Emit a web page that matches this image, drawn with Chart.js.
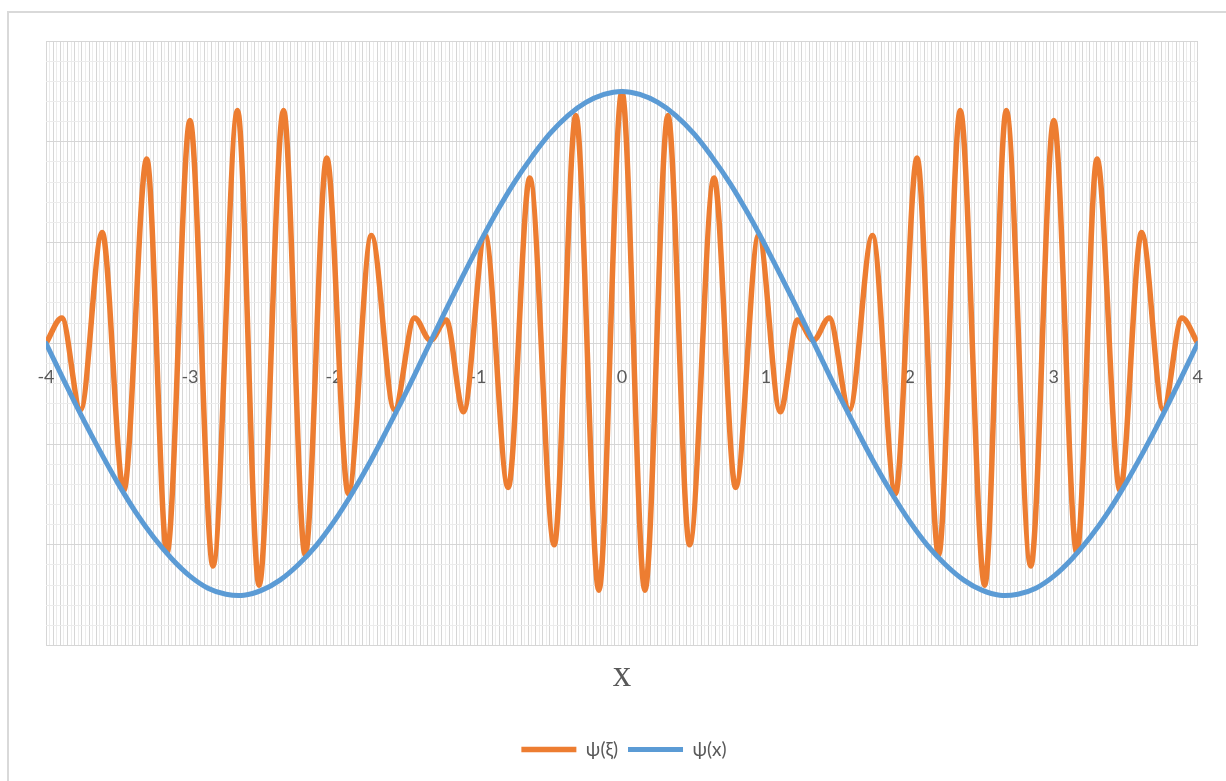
<!DOCTYPE html>
<html lang="en">
<head>
    <meta charset="UTF-8">
    <title>ψ(ξ) and ψ(x)</title>
    <script src="https://cdn.jsdelivr.net/npm/chart.js"></script>
    <style>
        html, body {
            margin: 0;
            overflow: hidden;
            background-color: #ffffff;
        }

        #wrap {
            position: absolute;
            left: 0;
            top: 0;
            width: 1226px;
            height: 781px;
            overflow: hidden;
        }

        /* chart frame, cut off at the right and bottom like the original */
        #frame {
            position: absolute;
            left: 7px;
            top: 11px;
            width: 1400px;
            height: 900px;
            border: 2px solid #d9d9d9;
        }

        canvas {
            position: absolute;
            left: 0;
            top: 0;
        }
    </style>
</head>
<body>
    <div id="wrap">
        <div id="frame"></div>
        <canvas id="waveChart" width="1226" height="781"></canvas>
    </div>

    <script>
        // x tick labels drawn on the zero line
        const xTickValues = [-4, -3, -2, -1, 0, 1, 2, 3, 4];

        // ψ(x): the slow wave, read every 0.125
        const xsSlow = [-4, -3.875, -3.75, -3.625, -3.5, -3.375, -3.25, -3.125, -3, -2.875, -2.75, -2.625, -2.5, -2.375,
            -2.25, -2.125, -2, -1.875, -1.75, -1.625, -1.5, -1.375, -1.25, -1.125, -1, -0.875, -0.75, -0.625, -0.5,
            -0.375, -0.25, -0.125, 0, 0.125, 0.25, 0.375, 0.5, 0.625, 0.75, 0.875, 1, 1.125, 1.25, 1.375, 1.5,
            1.625, 1.75, 1.875, 2, 2.125, 2.25, 2.375, 2.5, 2.625, 2.75, 2.875, 3, 3.125, 3.25, 3.375, 3.5, 3.625,
            3.75, 3.875, 4];
        const psiX = [0, -0.37, -0.73, -1.07, -1.39, -1.68, -1.93, -2.14, -2.31, -2.43, -2.49, -2.50, -2.45, -2.35,
            -2.20, -2.01, -1.77, -1.49, -1.18, -0.84, -0.49, -0.12, 0.25, 0.61, 0.96, 1.29, 1.59, 1.85, 2.08,
            2.26, 2.39, 2.47, 2.50, 2.47, 2.39, 2.26, 2.08, 1.85, 1.59, 1.29, 0.96, 0.61, 0.25, -0.12, -0.49,
            -0.84, -1.18, -1.49, -1.77, -2.01, -2.20, -2.35, -2.45, -2.50, -2.49, -2.43, -2.31, -2.14, -1.93, -1.68,
            -1.39, -1.07, -0.73, -0.37, 0];

        // ψ(ξ): the fast wave, read at its peaks and troughs
        const xsFast = [-4, -3.89, -3.76, -3.61, -3.46, -3.30, -3.16, -3.00, -2.84, -2.67, -2.52, -2.35, -2.20, -2.05,
            -1.90, -1.74, -1.58, -1.44, -1.33, -1.22, -1.10, -0.95, -0.79, -0.64, -0.47, -0.32, -0.16,
            0,
            0.16, 0.32, 0.47, 0.64, 0.79, 0.95, 1.10, 1.22, 1.33, 1.44, 1.58, 1.74, 1.90,
            2.05, 2.20, 2.35, 2.52, 2.67, 2.84, 3.00, 3.16, 3.30, 3.46, 3.61, 3.76, 3.89, 4];
        const psiXi = [0, 0.25, -0.66, 1.10, -1.46, 1.83, -2.08, 2.21, -2.21, 2.31, -2.40, 2.31, -2.10, 1.84,
            -1.49, 1.07, -0.66, 0.25, 0.03, 0.23, -0.68, 1.07, -1.43, 1.64, -2.00, 2.26, -2.45,
            2.50,
            -2.45, 2.26, -2.00, 1.64, -1.43, 1.07, -0.68, 0.23, 0.03, 0.25, -0.66, 1.07, -1.49,
            1.84, -2.10, 2.31, -2.40, 2.31, -2.21, 2.21, -2.08, 1.83, -1.46, 1.10, -0.66, 0.25, 0];

        Chart.defaults.font.family = 'Lato, "Open Sans", sans-serif';
        Chart.defaults.color = '#595959';

        const isStep = (v, n) => Math.abs(v * n - Math.round(v * n)) < 1e-6;

        const ctx = document.getElementById('waveChart').getContext('2d');
        new Chart(ctx, {
            type: 'line',
            data: {
                datasets: [{
                    label: 'ψ(ξ)',
                    data: xsFast.map((x, i) => ({ x: x, y: psiXi[i] })),
                    borderColor: '#ED7D31',
                    backgroundColor: '#ED7D31',
                    borderWidth: 5.5,
                    borderCapStyle: 'round',
                    borderJoinStyle: 'round',
                    pointRadius: 0,
                    cubicInterpolationMode: 'monotone',
                    order: 1
                }, {
                    label: 'ψ(x)',
                    data: xsSlow.map((x, i) => ({ x: x, y: psiX[i] })),
                    borderColor: '#5B9BD5',
                    backgroundColor: '#5B9BD5',
                    borderWidth: 5,
                    borderCapStyle: 'round',
                    borderJoinStyle: 'round',
                    pointRadius: 0,
                    tension: 0.4,
                    order: 0
                }]
            },
            options: {
                responsive: false,
                animation: false,
                layout: {
                    padding: { left: 46, right: 24, top: 41, bottom: 12 }
                },
                plugins: {
                    tooltip: { enabled: false },
                    legend: {
                        position: 'bottom',
                        labels: {
                            usePointStyle: true,
                            pointStyle: 'line',
                            pointStyleWidth: 55,
                            padding: 10,
                            color: '#595959',
                            font: { size: 19 },
                            sort: (a, b) => a.datasetIndex - b.datasetIndex
                        }
                    }
                },
                scales: {
                    x: {
                        type: 'linear',
                        min: -4,
                        max: 4,
                        border: { display: false },
                        grid: {
                            drawTicks: false,
                            color: (c) => (c.tick && isStep(c.tick.value, 20)) ? '#d6d6d6' : '#ececec'
                        },
                        ticks: { stepSize: 0.025, autoSkip: false, display: false },
                        title: {
                            display: true,
                            text: 'x',
                            color: '#595959',
                            font: { family: '"Liberation Serif", serif', size: 37 },
                            padding: { top: 8, bottom: 32 }
                        }
                    },
                    // second x axis, only for the labels sitting on y = 0
                    x2: {
                        type: 'linear',
                        axis: 'x',
                        position: { y: 0 },
                        min: -4,
                        max: 4,
                        border: { display: false },
                        grid: { display: false, drawTicks: false },
                        afterBuildTicks: (axis) => {
                            axis.ticks = xTickValues.map(v => ({ value: v }));
                        },
                        ticks: {
                            autoSkip: false,
                            maxRotation: 0,
                            padding: 23,
                            color: '#595959',
                            font: { size: 18 }
                        }
                    },
                    y: {
                        type: 'linear',
                        min: -3,
                        max: 3,
                        border: { display: false },
                        grid: {
                            drawTicks: false,
                            color: (c) => (c.tick && isStep(c.tick.value, 1)) ? '#d6d6d6' : '#ececec'
                        },
                        ticks: { stepSize: 0.2, display: false }
                    }
                }
            }
        });
    </script>
</body>
</html>
